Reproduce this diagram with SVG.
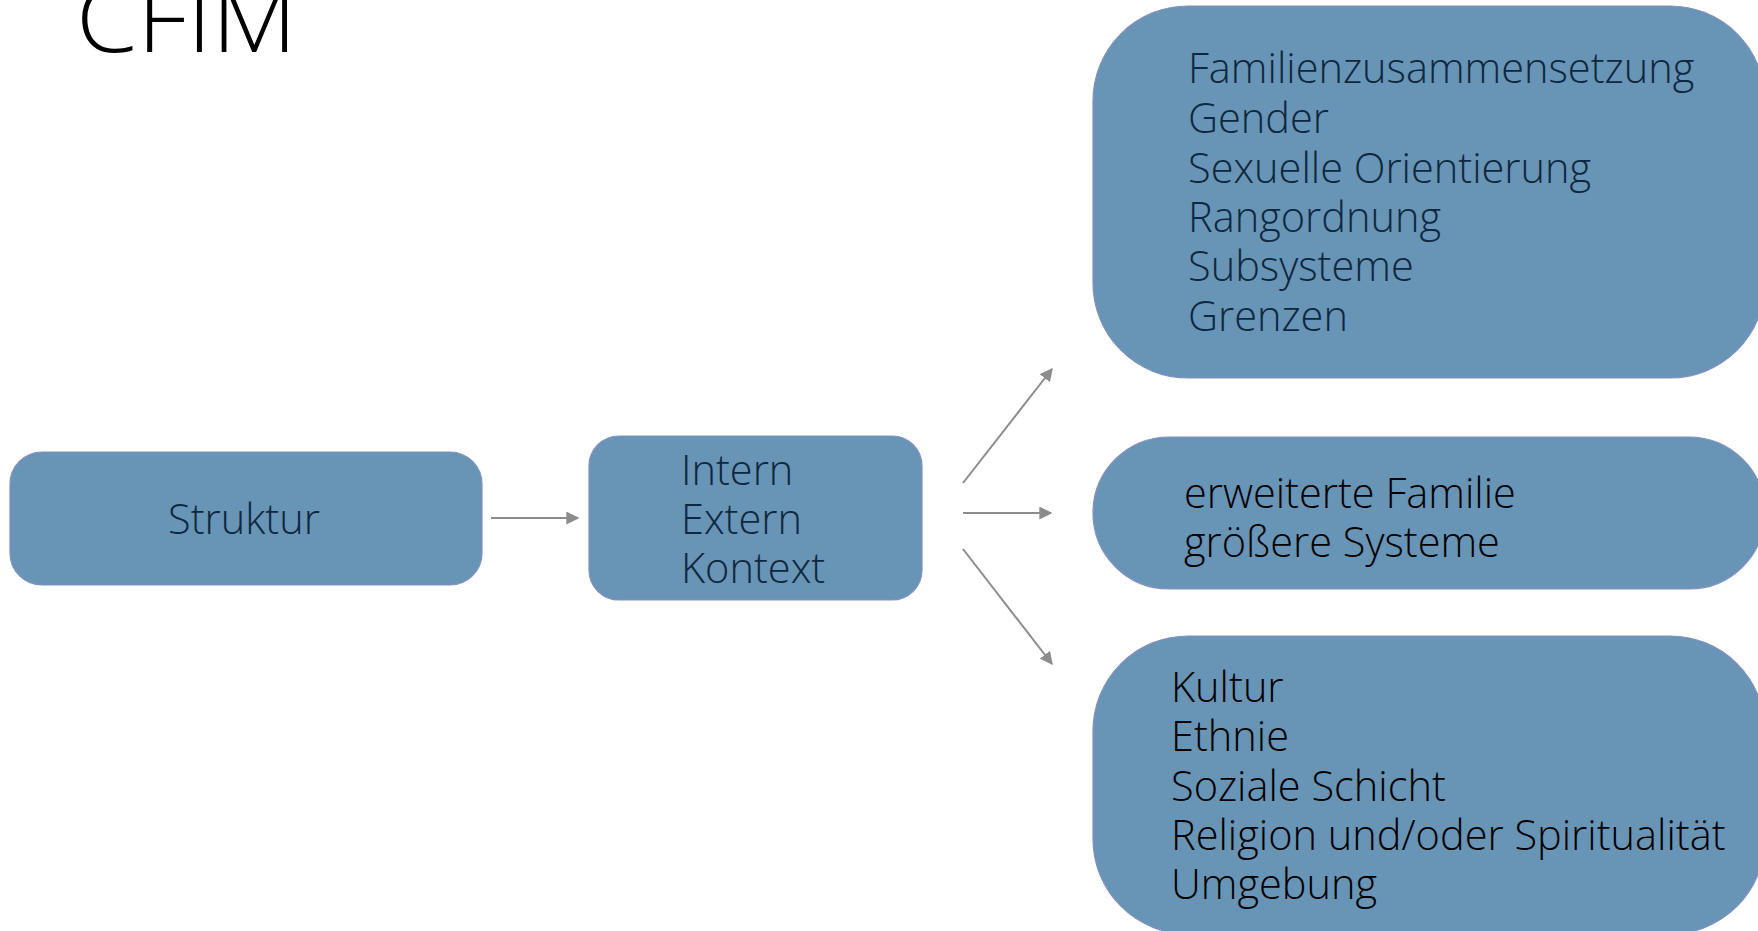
<svg xmlns="http://www.w3.org/2000/svg" width="1758" height="931" viewBox="0 0 1758 931">
  <defs>
    <style>
      .box { fill: #6894b5; stroke: #8290c0; stroke-width: 1.2; }
      .t { font-family: "Open Sans", "Liberation Sans", sans-serif; font-weight: 300; font-size: 41.5px; }
      .navy { fill: #0e2841; }
      .blk { fill: #000000; }
      .conn { stroke: #8c8c8c; stroke-width: 2; fill: none; marker-end: url(#arr); }
    </style>
    <marker id="arr" viewBox="0 0 10 10" refX="9" refY="5" markerWidth="6.5" markerHeight="6.5" markerUnits="strokeWidth" orient="auto">
      <path d="M0,0 L10,5 L0,10 Z" fill="#8c8c8c"/>
    </marker>
  </defs>
  <rect width="1758" height="931" fill="#ffffff"/>

  <g id="title">
    <text x="76" y="52" font-family="'Open Sans', 'Liberation Sans', sans-serif" font-weight="300" font-size="94" fill="#000" textLength="221" lengthAdjust="spacingAndGlyphs">CFIM</text>
  </g>

  <g id="connectors">
    <line class="conn" x1="491" y1="518" x2="578" y2="518"/>
    <line class="conn" x1="963" y1="483" x2="1052" y2="369"/>
    <line class="conn" x1="963" y1="513" x2="1051" y2="513"/>
    <line class="conn" x1="963" y1="549" x2="1052" y2="664"/>
  </g>

  <g id="node-struktur">
    <rect class="box" x="10" y="452" width="472" height="133" rx="32" ry="32"/>
    <text class="t navy" x="244" y="534" text-anchor="middle">Struktur</text>
  </g>

  <g id="node-intern">
    <rect class="box" x="589" y="436" width="333" height="164" rx="30" ry="30"/>
    <text class="t navy" x="681" y="485">Intern</text>
    <text class="t navy" x="681" y="534">Extern</text>
    <text class="t navy" x="681" y="583">Kontext</text>
  </g>

  <g id="node-intern-details">
    <rect class="box" x="1093" y="6" width="672" height="372" rx="95" ry="95"/>
    <text class="t navy" x="1188" y="83">Familienzusammensetzung</text>
    <text class="t navy" x="1188" y="133">Gender</text>
    <text class="t navy" x="1188" y="183">Sexuelle Orientierung</text>
    <text class="t navy" x="1188" y="232">Rangordnung</text>
    <text class="t navy" x="1188" y="281">Subsysteme</text>
    <text class="t navy" x="1188" y="331">Grenzen</text>
  </g>

  <g id="node-extern-details">
    <rect class="box" x="1093" y="437" width="672" height="152" rx="76" ry="76"/>
    <text class="t blk" x="1184" y="508">erweiterte Familie</text>
    <text class="t blk" x="1184" y="557">größere Systeme</text>
  </g>

  <g id="node-kontext-details">
    <rect class="box" x="1093" y="636" width="672" height="298" rx="95" ry="95"/>
    <text class="t blk" x="1171" y="702">Kultur</text>
    <text class="t blk" x="1171" y="751">Ethnie</text>
    <text class="t blk" x="1171" y="801">Soziale Schicht</text>
    <text class="t blk" x="1171" y="850">Religion und/oder Spiritualität</text>
    <text class="t blk" x="1171" y="899">Umgebung</text>
  </g>
</svg>
